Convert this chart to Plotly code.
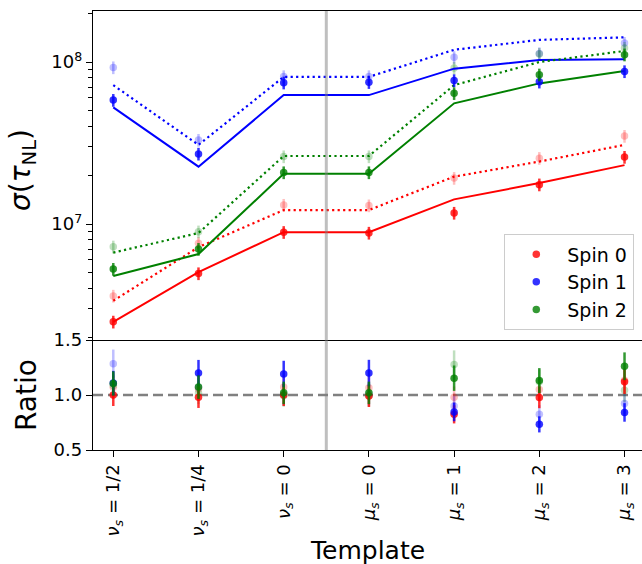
import plotly.graph_objects as go

# ---------------- data ----------------
x_idx = [0, 1, 2, 3, 4, 5, 6]
templates = ["<i>ν<sub>s</sub></i> = 1/2", "<i>ν<sub>s</sub></i> = 1/4", "<i>ν<sub>s</sub></i> = 0",
             "<i>μ<sub>s</sub></i> = 0", "<i>μ<sub>s</sub></i> = 1", "<i>μ<sub>s</sub></i> = 2",
             "<i>μ<sub>s</sub></i> = 3"]

# Spin 0 (red)
red_line = [2.49e6, 5.05e6, 8.9e6, 8.9e6, 1.42e7, 1.79e7, 2.31e7]
red_dot = [3.36e6, 7.2e6, 1.22e7, 1.22e7, 1.96e7, 2.43e7, 3.08e7]
red_pts = [2.49e6, 4.95e6, 8.9e6, 8.81e6, 1.17e7, 1.75e7, 2.59e7]
red_pts_light = [3.6e6, 7.6e6, 1.31e7, 1.30e7, 1.92e7, 2.55e7, 3.49e7]

# Spin 1 (blue)
blue_line = [5.25e7, 2.26e7, 6.25e7, 6.25e7, 9.1e7, 1.03e8, 1.04e8]
blue_dot = [7.2e7, 3.08e7, 8.1e7, 8.1e7, 1.19e8, 1.37e8, 1.42e8]
blue_pts = [5.82e7, 2.71e7, 7.45e7, 7.5e7, 7.7e7, 7.55e7, 8.75e7]
blue_pts_light = [9.25e7, 3.3e7, 8.15e7, 8.15e7, 1.07e8, 1.13e8, 1.31e8]

# Spin 2 (green)
green_line = [4.77e6, 6.53e6, 2.04e7, 2.04e7, 5.56e7, 7.38e7, 8.8e7]
green_dot = [6.66e6, 8.8e6, 2.63e7, 2.63e7, 7.2e7, 1.0e8, 1.17e8]
green_pts = [5.27e6, 7.0e6, 2.08e7, 2.08e7, 6.41e7, 8.35e7, 1.11e8]
green_pts_light = [7.24e6, 8.97e6, 2.61e7, 2.61e7, 9.2e7, 1.12e8, 1.22e8]

# relative 1-sigma error bars (fraction of value)
err_frac_top = [0.09, 0.09, 0.09, 0.09, 0.09, 0.09, 0.09]
err_frac_ratio = [0.10, 0.10, 0.10, 0.10, 0.10, 0.10, 0.10]

series = [
    ("Spin 0", (255, 0, 0), red_line, red_dot, red_pts, red_pts_light),
    ("Spin 1", (0, 0, 255), blue_line, blue_dot, blue_pts, blue_pts_light),
    ("Spin 2", (0, 128, 0), green_line, green_dot, green_pts, green_pts_light),
]

def rgba(c, a):
    return "rgba(%d,%d,%d,%.2f)" % (c[0], c[1], c[2], a)

MS = 7.5
fig = go.Figure()

# light (dotted-model) points first
for name, c, line, dot, pts, ptsl in series:
    ratio_l = [p / d for p, d in zip(ptsl, dot)]
    fig.add_trace(go.Scatter(
        x=x_idx, y=ptsl, xaxis="x2", yaxis="y2", mode="markers", showlegend=False,
        marker=dict(size=MS, color=rgba(c, 0.25), line=dict(width=0)),
        error_y=dict(type="data", array=[v * f for v, f in zip(ptsl, err_frac_top)],
                     color=rgba(c, 0.25), thickness=2.5, width=0)))
    fig.add_trace(go.Scatter(
        x=x_idx, y=ratio_l, xaxis="x", yaxis="y", mode="markers", showlegend=False,
        marker=dict(size=MS, color=rgba(c, 0.25), line=dict(width=0)),
        error_y=dict(type="data", array=[v * f for v, f in zip(ratio_l, err_frac_ratio)],
                     color=rgba(c, 0.25), thickness=2.5, width=0)))

for name, c, line, dot, pts, ptsl in series:
    fig.add_trace(go.Scatter(
        x=x_idx, y=line, xaxis="x2", yaxis="y2", mode="lines", showlegend=False,
        line=dict(color=rgba(c, 1), width=2)))
    fig.add_trace(go.Scatter(
        x=x_idx, y=dot, xaxis="x2", yaxis="y2", mode="lines", showlegend=False,
        line=dict(color=rgba(c, 1), width=2.2, dash="2.2px,3.3px")))

for name, c, line, dot, pts, ptsl in series:
    ratio = [p / l for p, l in zip(pts, line)]
    fig.add_trace(go.Scatter(
        x=x_idx, y=pts, xaxis="x2", yaxis="y2", mode="markers", name=name,
        marker=dict(size=MS, color=rgba(c, 0.8), line=dict(width=0)),
        error_y=dict(type="data", array=[v * f for v, f in zip(pts, err_frac_top)],
                     color=rgba(c, 0.8), thickness=2.5, width=0)))
    fig.add_trace(go.Scatter(
        x=x_idx, y=ratio, xaxis="x", yaxis="y", mode="markers", showlegend=False,
        marker=dict(size=MS, color=rgba(c, 0.8), line=dict(width=0)),
        error_y=dict(type="data", array=[v * f for v, f in zip(ratio, err_frac_ratio)],
                     color=rgba(c, 0.8), thickness=2.5, width=0)))

FONT = "DejaVu Sans"
tickfont = dict(family=FONT, size=18, color="black")
split = 110 / 439

minor_vals = [k * 10 ** e for e in (6, 7) for k in range(2, 10)] + [2e8]

fig.update_layout(
    width=642, height=564,
    margin=dict(l=93, r=0, t=11, b=114),
    paper_bgcolor="white", plot_bgcolor="white",
    font=dict(family=FONT, color="black"),
    xaxis=dict(domain=[0, 1], range=[-0.238, 6.205], tickmode="array", tickvals=x_idx,
               ticktext=templates, tickangle=-90, tickfont=tickfont, ticks="outside",
               ticklen=6, tickwidth=1.2, tickcolor="black", showline=True, linecolor="black",
               linewidth=1.3, showgrid=False, zeroline=False, anchor="y"),
    xaxis2=dict(domain=[0, 1], matches="x", range=[-0.238, 6.205], showticklabels=False,
                ticks="", showline=True, mirror=True, linecolor="black", linewidth=1.3,
                showgrid=False, zeroline=False, anchor="y2"),
    yaxis=dict(domain=[0, split], range=[0.5, 1.5], tickmode="array", tickvals=[0.5, 1.0, 1.5],
               ticktext=["0.5", "1.0", "1.5"], tickfont=tickfont, ticks="outside", ticklen=6,
               tickwidth=1.2, tickcolor="black", showline=True, linecolor="black", linewidth=1.3,
               showgrid=False, zeroline=False, anchor="x"),
    yaxis2=dict(domain=[split, 1], type="log", range=[6.284, 8.315], tickmode="array",
                tickvals=[1e7, 1e8], ticktext=["10<sup>7</sup>", "10<sup>8</sup>"],
                tickfont=tickfont, ticks="outside", ticklen=6, tickwidth=1.2, tickcolor="black",
                minor=dict(tickmode="array", tickvals=minor_vals, ticks="outside", ticklen=3.5,
                           tickwidth=1, tickcolor="black", showgrid=False),
                showline=True, linecolor="black", linewidth=1.3, showgrid=False, zeroline=False,
                anchor="x2"),
    legend=dict(x=0.9854, y=(450 - 330) / 439, xanchor="right", yanchor="bottom",
                bgcolor="rgba(255,255,255,0.8)", bordercolor="#cccccc", borderwidth=1.3,
                itemwidth=52, font=dict(family=FONT, size=19, color="black")),
    shapes=[
        dict(type="line", xref="x", yref="paper", x0=2.5, x1=2.5, y0=0, y1=1,
             line=dict(color="rgba(128,128,128,0.5)", width=3), layer="above"),
        dict(type="line", xref="paper", yref="y", x0=0, x1=1, y0=1.0, y1=1.0,
             line=dict(color="gray", width=2.5, dash="10px,5px"), layer="below"),
    ],
    annotations=[
        dict(text="<i>σ</i>(<i>τ</i><sub>NL</sub>)", xref="paper", yref="paper",
             x=(22 - 93) / 549, y=(450 - 170) / 439, xanchor="center", yanchor="middle",
             textangle=-90, showarrow=False, font=dict(family=FONT, size=28, color="black")),
        dict(text="Ratio", xref="paper", yref="paper", x=(26 - 93) / 549, y=(450 - 395) / 439,
             xanchor="center", yanchor="middle", textangle=-90, showarrow=False,
             font=dict(family=FONT, size=28, color="black")),
        dict(text="Template", xref="paper", yref="paper", x=(367 - 93) / 549,
             y=(450 - 550) / 439, xanchor="center", yanchor="middle", showarrow=False,
             font=dict(family=FONT, size=25, color="black")),
    ],
)

fig.write_html("out.html")
